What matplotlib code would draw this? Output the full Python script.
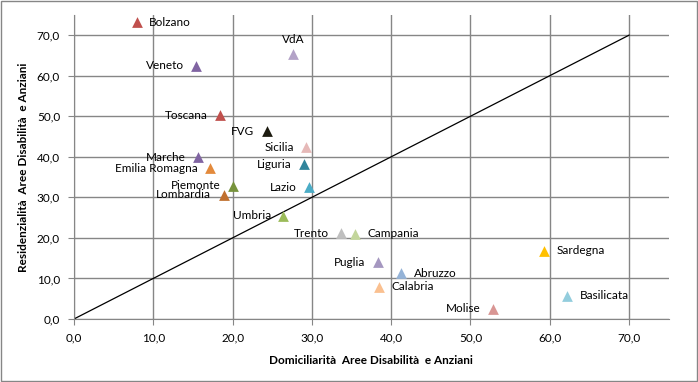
import matplotlib.pyplot as plt
import matplotlib.patches as patches
from matplotlib.ticker import FuncFormatter

# Dati
regioni = ["Bolzano", "VdA", "Veneto", "Toscana", "FVG", "Sicilia", "Liguria",
           "Marche", "Emilia Romagna", "Piemonte", "Lombardia", "Lazio", "Umbria",
           "Trento", "Campania", "Puglia", "Abruzzo", "Calabria", "Sardegna",
           "Basilicata", "Molise"]
domiciliarita = [7.9, 27.6, 15.4, 18.4, 24.3, 29.3, 29.0,
                 15.7, 17.2, 20.1, 18.9, 29.7, 26.4,
                 33.7, 35.5, 38.3, 41.3, 38.5, 59.3,
                 62.2, 52.8]
residenzialita = [73.2, 65.3, 62.4, 50.3, 46.3, 42.4, 38.2,
                  39.9, 37.2, 32.8, 30.6, 32.5, 25.4,
                  21.2, 21.0, 14.0, 11.3, 7.9, 16.8,
                  5.7, 2.5]
colori = ["#C0504D", "#B3A2C7", "#8064A2", "#C0504D", "#1D1B10", "#E6B9B8", "#31859C",
          "#8064A2", "#E38A3C", "#77933C", "#C0702E", "#4BACC6", "#9BBB59",
          "#BFBFBF", "#C3D69B", "#A597C0", "#95B3D7", "#FAC090", "#FFC000",
          "#93CDDD", "#D99694"]
# posizione etichetta: r = destra, l = sinistra, t = sopra
posizioni = ["r", "t", "l", "l", "l", "l", "l",
             "l", "l", "l", "l", "l", "l",
             "l", "r", "l", "r", "r", "r",
             "r", "l"]

plt.rcParams['font.family'] = ['Lato', 'DejaVu Sans']

fig = fig = plt.figure(figsize=(6.98, 3.82), dpi=100)
ax = fig.add_axes([0.106, 0.165, 0.852, 0.796])

ax.set_xlim(0, 75)
ax.set_ylim(0, 75)
ax.set_xticks(range(0, 71, 10))
ax.set_yticks(range(0, 71, 10))
fmt = FuncFormatter(lambda v, p: f"{v:.1f}".replace(".", ","))
ax.xaxis.set_major_formatter(fmt)
ax.yaxis.set_major_formatter(fmt)
ax.grid(True, color="#868686", linewidth=1)
ax.set_axisbelow(True)
for s in ["top", "right"]:
    ax.spines[s].set_visible(False)
for s in ["left", "bottom"]:
    ax.spines[s].set_color("#868686")
ax.tick_params(length=4, color="#868686", labelsize=8.5, pad=6)

ax.plot([0, 70], [0, 70], color="black", linewidth=0.9, zorder=2)

for nome, x, y, c, pos in zip(regioni, domiciliarita, residenzialita, colori, posizioni):
    ax.scatter(x, y, marker="^", s=60, color=c, zorder=3, linewidths=0)
    if pos == "r":
        ax.annotate(nome, (x, y), xytext=(9, 0), textcoords="offset points",
                    ha="left", va="center", fontsize=8.5)
    elif pos == "l":
        ax.annotate(nome, (x, y), xytext=(-9, 0), textcoords="offset points",
                    ha="right", va="center", fontsize=8.5)
    else:
        ax.annotate(nome, (x, y), xytext=(0, 7), textcoords="offset points",
                    ha="center", va="bottom", fontsize=8.5)

ax.set_xlabel("Domiciliarità  Aree Disabilità  e Anziani", fontsize=8.5,
              fontweight="bold", labelpad=8)
ax.set_ylabel("Residenzialità  Aree Disabilità  e Anziani", fontsize=8.5,
              fontweight="bold", labelpad=6)

fig.patches.append(patches.Rectangle((0.001, 0.002), 0.997, 0.995, transform=fig.transFigure,
                                     fill=False, edgecolor="#868686", linewidth=1))

fig.savefig("out.png", dpi=100)
